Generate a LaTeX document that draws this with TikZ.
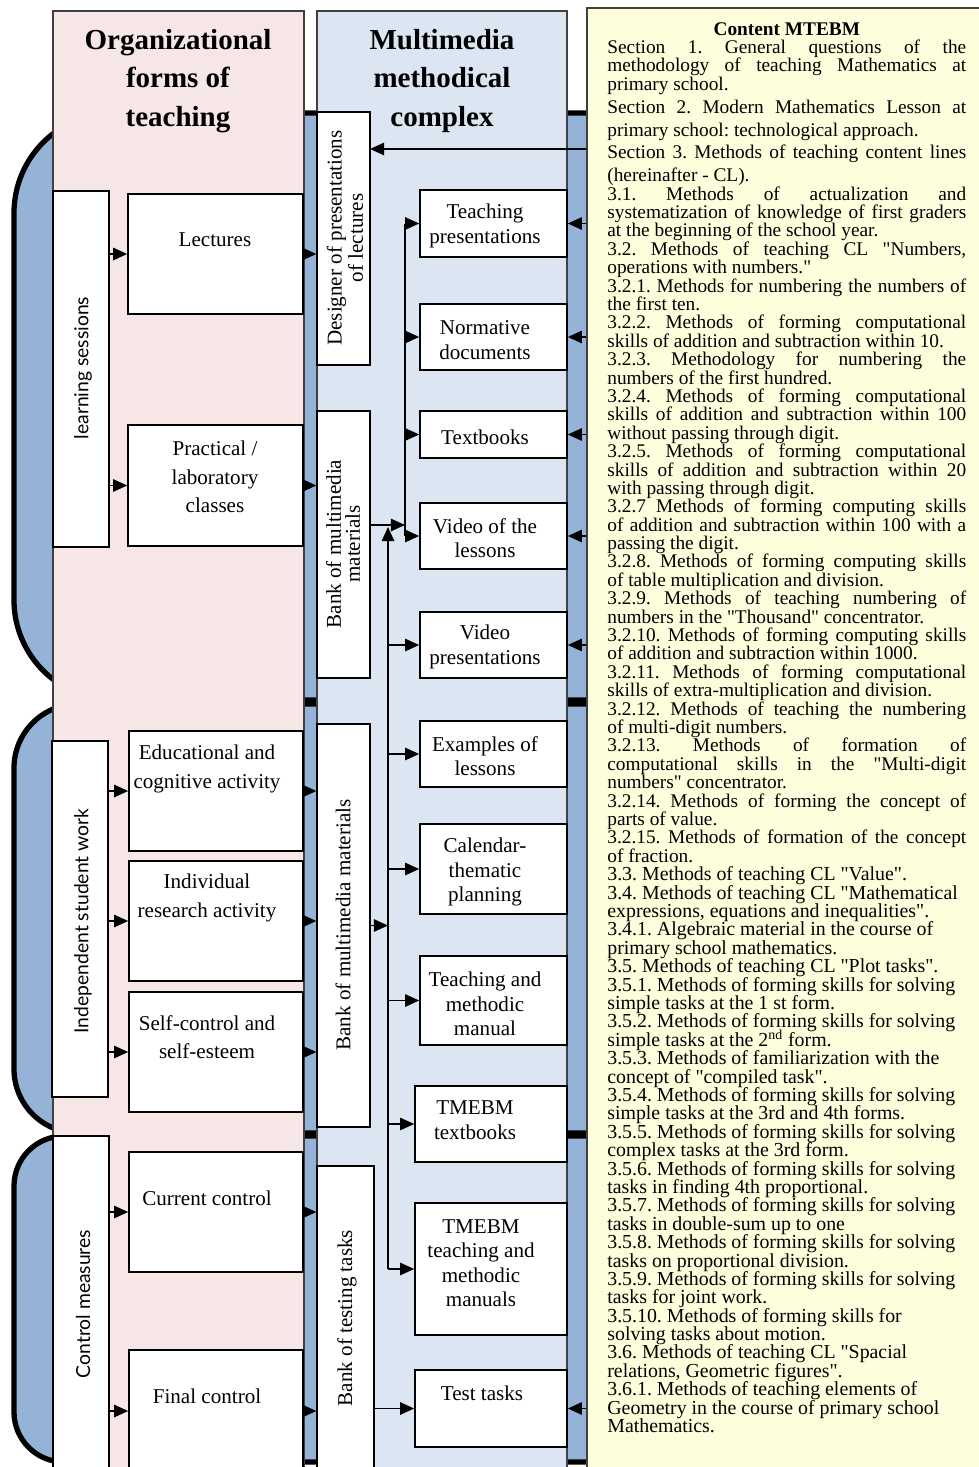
\documentclass[tikz,border=0pt]{standalone}
\usepackage{fontspec}
\setmainfont{Liberation Serif}[Ligatures=TeXOff]
\newfontfamily\gothfont{Lato}
\usetikzlibrary{arrows.meta,fit}
\definecolor{pinkbg}{HTML}{F6E6E6}
\definecolor{paleblue}{HTML}{DCE6F2}
\definecolor{bandblue}{HTML}{95B3D7}
\definecolor{paleyellow}{HTML}{FFFEDC}
\definecolor{rim}{HTML}{404040}
\tolerance=10000
\hbadness=10000
\hfuzz=20pt
\frenchspacing
\tikzset{
  group/.style={draw=black,line width=3pt,fill=bandblue},
  panel/.style={draw=rim,line width=0.7pt,inner sep=0pt},
  box/.style={draw=black,fill=white,line width=0.9pt,inner sep=0pt},
  ltxt/.style={inner sep=0pt,align=center,font=\fontsize{12}{16.2}\selectfont},
  mtxt/.style={inner sep=0pt,align=center,font=\fontsize{12}{13.9}\selectfont},
  vtxt/.style={inner sep=0pt,align=center,rotate=90,font=\fontsize{12}{10.8}\selectfont},
  gtxt/.style={inner sep=0pt,rotate=90,font=\gothfont\fontsize{11}{13}\selectfont},
  ttl/.style={inner sep=0pt,align=center,font=\bfseries\fontsize{16.5}{21.8}\selectfont},
  arr/.style={line width=1pt,-{Triangle[length=8pt,width=7pt]}},
  link/.style={line width=1pt}
}
\begin{document}
\begin{tikzpicture}[x=0.02cm,y=-0.02cm]
  \useasboundingbox (0,0) rectangle (978,1467);
  \draw[group,rounded corners=2cm] (14,113) rectangle (1010,700);
  \draw[group,rounded corners=1.28cm] (14,704) rectangle (1010,1133);
  \draw[group,rounded corners=1cm] (14,1136) rectangle (1010,1462);

  \node[panel,fill=pinkbg,fit={(53,11) (304,1490)}] (oft) {};
  \node[panel,fill=paleblue,fit={(317,11) (567,1490)}] (mmc) {};
  \node[panel,fill=paleyellow,fit={(587,8) (1010,1490)}] (cnt) {};
  \node[ttl] (oftt) at (178,81) {Organizational\\forms of\\teaching};
  \node[ttl] (mmct) at (442,81) {Multimedia\\methodical\\complex};

  \node[box,fit={(53,191) (109,547)}] (lsn) {};
  \node[gtxt] (lsnt) at (83,368) {learning sessions};
  \node[box,fit={(52,741) (108,1097)}] (isw) {};
  \node[gtxt] (iswt) at (83,921) {Independent student work};
  \node[box,fit={(53,1136) (109,1472)}] (ctl) {};
  \node[gtxt] (ctlt) at (83,1304) {Control measures};

  \node[box,fit={(128,194) (303,314)}] (lec) {};
  \node[ltxt] (lect) at (215,240) {Lectures};
  \node[box,fit={(128,425) (303,546)}] (prc) {};
  \node[ltxt] (prct) at (215,477) {Practical /\\laboratory\\classes};
  \node[box,fit={(129,731) (303,851)}] (edu) {};
  \node[ltxt] (edut) at (207,769) {Educational and\\cognitive activity};
  \node[box,fit={(129,861) (303,981)}] (ind) {};
  \node[ltxt] (indt) at (207,898) {Individual\\research activity};
  \node[box,fit={(129,992) (303,1112)}] (slf) {};
  \node[ltxt] (slft) at (207,1037) {Self-control and\\self-esteem};
  \node[box,fit={(129,1152) (303,1272)}] (cur) {};
  \node[ltxt] (curt) at (207,1198) {Current control};
  \node[box,fit={(129,1350) (303,1472)}] (fin) {};
  \node[ltxt] (fint) at (207,1396) {Final control};

  \node[box,fit={(317,112) (370,365)}] (dsg) {};
  \node[vtxt] (dsgt) at (345,238) {Designer of presentations\\of lectures};
  \node[box,fit={(317,411) (370,678)}] (bk1) {};
  \node[vtxt] (bk1t) at (343,544) {Bank of multimedia\\materials};
  \node[box,fit={(317,724) (370,1127)}] (bk2) {};
  \node[vtxt] (bk2t) at (343,925) {Bank of multimedia materials};
  \node[box,fit={(317,1166) (374,1472)}] (btt) {};
  \node[vtxt] (bttt) at (347,1318) {Bank of testing tasks};

  \node[box,fit={(420,190) (567,257)}] (tpr) {};
  \node[mtxt] (tprt) at (485,226) {Teaching\\presentations};
  \node[box,fit={(420,304) (567,370)}] (nrm) {};
  \node[mtxt] (nrmt) at (485,340) {Normative\\documents};
  \node[box,fit={(420,411) (567,458)}] (txb) {};
  \node[mtxt] (txbt) at (485,437) {Textbooks};
  \node[box,fit={(420,503) (567,569)}] (vls) {};
  \node[mtxt] (vlst) at (485,538) {Video of the\\lessons};
  \node[box,fit={(420,612) (567,678)}] (vpr) {};
  \node[mtxt] (vprt) at (485,647) {Video\\presentations};
  \node[box,fit={(420,721) (567,787)}] (exl) {};
  \node[mtxt] (exlt) at (485,756) {Examples of\\lessons};
  \node[box,fit={(420,824) (567,914)}] (ctp) {};
  \node[mtxt] (ctpt) at (485,872) {Calendar-\\thematic\\planning};
  \node[box,fit={(420,956) (567,1045)}] (tmm) {};
  \node[mtxt] (tmmt) at (485,1004) {Teaching and\\methodic\\manual};
  \node[box,fit={(415,1086) (567,1162)}] (ttb) {};
  \node[mtxt] (ttbt) at (475,1120) {TMEBM\\textbooks};
  \node[box,fit={(415,1203) (567,1335)}] (ttm) {};
  \node[mtxt] (ttmt) at (481,1263) {TMEBM\\teaching and\\methodic\\manuals};
  \node[box,fit={(415,1370) (567,1447)}] (tst) {};
  \node[mtxt] (tstt) at (482,1393) {Test tasks};

  \foreach \l/\b in {lsn/lec,lsn/prc,isw/edu,isw/ind,isw/slf,ctl/cur,ctl/fin}
    \draw[arr] (\b.west -| \l.east) -- (\b.west);
  \foreach \b in {lec,prc,edu,ind,slf,cur,fin}
    \draw[arr] (\b.east) -- (\b.east -| mmc.west);
  \foreach \b in {tpr,nrm,txb,vls,vpr,tst}
    \draw[arr] (\b.east -| cnt.west) -- (\b.east);
  \coordinate (dsgin) at (370,149);
  \draw[arr] (dsgin -| cnt.west) -- (dsgin);

  \coordinate (jA) at (405,525);
  \coordinate (jB) at (388,527);
  \draw[link] (tpr.west -| jA) -- (vls.west -| jA);
  \foreach \b in {tpr,nrm,txb,vls}
    \draw[arr] (\b.west -| jA) -- (\b.west);
  \draw[arr] (bk1.east |- jA) -- (jA);
  \draw[arr] (ttm.west -| jB) -- (jB);
  \foreach \b in {vpr,exl,ctp,tmm,ttb,ttm}
    \draw[arr] (\b.west -| jB) -- (\b.west);
  \draw[arr] (bk2.east) -- (bk2.east -| jB);
  \draw[arr] (btt.east |- tst.west) -- (tst.west);

  \node[inner sep=0pt,anchor=north west,text width=7.18cm,align=justify,font=\fontsize{11}{10.47}\selectfont] (cntt) at (607,22) {%
    \parindent=0pt\lineskiplimit=-10pt
    \leftskip=0pt\rightskip=0pt\parfillskip=0pt plus 1fil
    {\centering\bfseries Content MTEBM\par}
    Section 1. General questions of the\linebreak
    methodology of teaching Mathematics at\linebreak
    primary school.\par
    {\fontsize{11}{13}\selectfont
    Section 2. Modern Mathematics Lesson at\linebreak
    primary school: technological approach.\par
    Section 3. Methods of teaching content lines\linebreak
    (hereinafter - CL).\par}
    3.1. Methods of actualization and\linebreak
    systematization of knowledge of first graders\linebreak
    at the beginning of the school year.\par
    3.2. Methods of teaching CL "Numbers,\linebreak
    operations with numbers."\par
    3.2.1. Methods for numbering the numbers of\linebreak
    the first ten.\par
    3.2.2. Methods of forming computational\linebreak
    skills of addition and subtraction within 10.\par
    3.2.3. Methodology for numbering the\linebreak
    numbers of the first hundred.\par
    3.2.4. Methods of forming computational\linebreak
    skills of addition and subtraction within 100\linebreak
    without passing through digit.\par
    3.2.5. Methods of forming computational\linebreak
    skills of addition and subtraction within 20\linebreak
    with passing through digit.\par
    3.2.7 Methods of forming computing skills\linebreak
    of addition and subtraction within 100 with a\linebreak
    passing the digit.\par
    3.2.8. Methods of forming computing skills\linebreak
    of table multiplication and division.\par
    3.2.9. Methods of teaching numbering of\linebreak
    numbers in the "Thousand" concentrator.\par
    3.2.10. Methods of forming computing skills\linebreak
    of addition and subtraction within 1000.\par
    3.2.11. Methods of forming computational\linebreak
    skills of extra-multiplication and division.\par
    3.2.12. Methods of teaching the numbering\linebreak
    of multi-digit numbers.\par
    3.2.13. Methods of formation of\linebreak
    computational skills in the "Multi-digit\linebreak
    numbers" concentrator.\par
    3.2.14. Methods of forming the concept of\linebreak
    parts of value.\par
    3.2.15. Methods of formation of the concept\linebreak
    of fraction.\par
    \fontsize{11.3}{10.47}\selectfont
    3.3. Methods of teaching CL "Value".\par
    3.4. Methods of teaching CL "Mathematical\newline
    expressions, equations and inequalities".\par
    3.4.1. Algebraic material in the course of\newline
    primary school mathematics.\par
    3.5. Methods of teaching CL "Plot tasks".\par
    3.5.1. Methods of forming skills for solving\newline
    simple tasks at the 1 st form.\par
    3.5.2. Methods of forming skills for solving\newline
    simple tasks at the 2\textsuperscript{nd} form.\par
    3.5.3. Methods of familiarization with the\newline
    concept of "compiled task".\par
    3.5.4. Methods of forming skills for solving\newline
    simple tasks at the 3rd and 4th forms.\par
    3.5.5. Methods of forming skills for solving\newline
    complex tasks at the 3rd form.\par
    3.5.6. Methods of forming skills for solving\newline
    tasks in finding 4th proportional.\par
    3.5.7. Methods of forming skills for solving\newline
    tasks in double-sum up to one\par
    3.5.8. Methods of forming skills for solving\newline
    tasks on proportional division.\par
    3.5.9. Methods of forming skills for solving\newline
    tasks for joint work.\par
    3.5.10. Methods of forming skills for\newline
    solving tasks about motion.\par
    3.6. Methods of teaching CL "Spacial\newline
    relations, Geometric figures".\par
    3.6.1. Methods of teaching elements of\newline
    Geometry in the course of primary school\newline
    Mathematics.};
\end{tikzpicture}
\end{document}
